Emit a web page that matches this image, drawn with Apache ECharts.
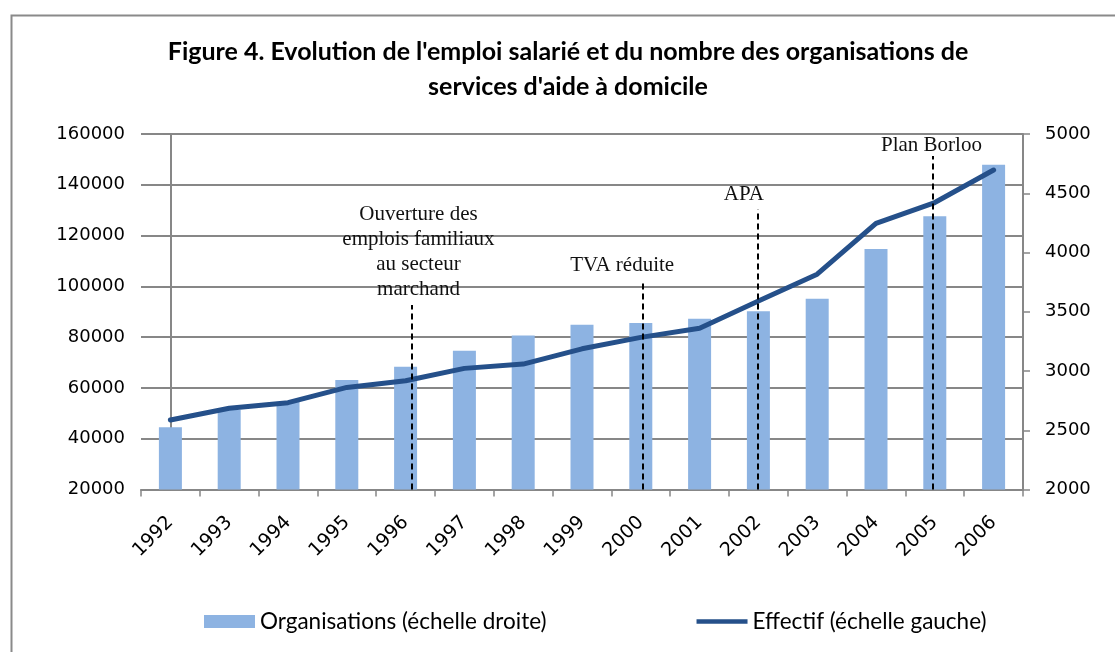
<!DOCTYPE html>
<html>
<head>
<meta charset="utf-8">
<script src="https://cdn.jsdelivr.net/npm/echarts@6/dist/echarts.min.js"></script>
<style>
  html, body { margin: 0; padding: 0; background: #fff; }
  #chart { width: 1115px; height: 652px; }
</style>
</head>
<body>
<div id="chart"></div>
<script>
const years = ['1992', '1993', '1994', '1995', '1996', '1997', '1998', '1999', '2000', '2001', '2002', '2003', '2004', '2005', '2006'];
// organisations, right scale
const organisations = [2525, 2670, 2740, 2925, 3035, 3170, 3300, 3390, 3405, 3440, 3505, 3610, 4030, 4305, 4740];
// effectif, left scale
const effectif = [47400, 52000, 54200, 60200, 62800, 67700, 69400, 75400, 79900, 83500, 94200, 104800, 124800, 133000, 145800];

// events: position along the category axis (index), top of the dashed line (left scale), label
const eventPos = [4.1, 8.04, 9.99, 12.96];
const eventTop = [92700, 102100, 130400, 151300];
const eventLabels = ['Ouverture des\nemplois familiaux\nau secteur\nmarchand', 'TVA réduite', 'APA', 'Plan Borloo'];
const eventLabelShift = [[7, 2], [-21, 2], [-14, 3], [-1, 7]];

const chart = echarts.init(document.getElementById('chart'));

const axisGray = '#878787';

const markLines = eventPos.map(function (p, i) {
    return [
        { coord: [p, 20000] },
        {
            coord: [p, eventTop[i]],
            label: {
                show: true,
                position: 'end',
                formatter: eventLabels[i],
                offset: eventLabelShift[i],
                fontFamily: 'Liberation Serif',
                fontSize: 21,
                lineHeight: 25,
                color: '#111',
                align: 'center'
            }
        }
    ];
});

const plain = function (v) { return String(v); };

const option = {
    animation: false,
    backgroundColor: '#fff',
    title: {
        text: "Figure 4. Evolution de l'emploi salarié et du nombre des organisations de\nservices d'aide à domicile",
        left: 563,
        top: 29,
        textAlign: 'center',
        textStyle: {
            fontFamily: 'Lato',
            fontWeight: 'bold',
            fontSize: 25,
            lineHeight: 35,
            color: '#000'
        }
    },
    graphic: [{
        type: 'rect',
        left: 9,
        top: 13,
        shape: { width: 1120, height: 660 },
        style: { fill: 'none', stroke: '#8a8a8a', lineWidth: 2 },
        silent: true
    }],
    legend: {
        left: 199,
        top: 605,
        itemWidth: 51,
        itemHeight: 13,
        itemGap: 150,
        textStyle: { fontFamily: 'Lato', fontSize: 22.5, color: '#000' },
        data: [
            { name: 'Organisations (échelle droite)', icon: 'rect' },
            { name: 'Effectif (échelle gauche)', icon: 'path://M0,0 L51,0 L51,4.5 L0,4.5 Z' }
        ]
    },
    grid: { left: 141, right: 92, top: 134, bottom: 162.5 },
    xAxis: [{
        type: 'category',
        data: years,
        boundaryGap: true,
        axisLine: { lineStyle: { color: axisGray, width: 2 } },
        axisTick: { show: true, length: 7, lineStyle: { color: axisGray, width: 1.5 } },
        axisLabel: { rotate: 45, margin: 30, fontFamily: 'DejaVu Sans', fontSize: 19, color: '#000' },
        splitLine: { show: false }
    }, {
        type: 'value',
        min: -0.5,
        max: 14.5,
        show: false
    }],
    yAxis: [{
        type: 'value',
        min: 20000,
        max: 160000,
        interval: 20000,
        axisLine: { show: true, lineStyle: { color: axisGray, width: 2 } },
        axisTick: { show: true, length: 8, lineStyle: { color: axisGray, width: 1.5 } },
        axisLabel: { margin: 16, fontFamily: 'DejaVu Sans', fontSize: 18, color: '#000', formatter: plain },
        splitLine: { show: true, lineStyle: { color: axisGray, width: 2 } }
    }, {
        type: 'value',
        min: 2000,
        max: 5000,
        interval: 500,
        position: 'right',
        axisLine: { show: true, lineStyle: { color: axisGray, width: 2 } },
        axisTick: { show: true, length: 7, lineStyle: { color: axisGray, width: 1.5 } },
        axisLabel: { margin: 22, fontFamily: 'DejaVu Sans', fontSize: 18, color: '#000', formatter: plain },
        splitLine: { show: false }
    }],
    series: [{
        name: 'Organisations (échelle droite)',
        type: 'bar',
        xAxisIndex: 0,
        yAxisIndex: 1,
        barWidth: 23,
        itemStyle: { color: '#8db3e2' },
        data: organisations,
        z: 2
    }, {
        name: 'Effectif (échelle gauche)',
        type: 'line',
        xAxisIndex: 0,
        yAxisIndex: 0,
        symbol: 'none',
        lineStyle: { color: '#25508a', width: 5, cap: 'round', join: 'round' },
        itemStyle: { color: '#25508a' },
        data: effectif,
        z: 4
    }, {
        name: 'events',
        type: 'scatter',
        xAxisIndex: 1,
        yAxisIndex: 0,
        symbolSize: 0,
        silent: true,
        data: eventPos.map(function (p, i) { return [p, eventTop[i]]; }),
        z: 5,
        markLine: {
            silent: true,
            symbol: ['none', 'none'],
            lineStyle: { color: '#000', type: [6, 4], width: 2 },
            label: { show: false },
            data: markLines
        }
    }]
};

chart.setOption(option);
</script>
</body>
</html>
